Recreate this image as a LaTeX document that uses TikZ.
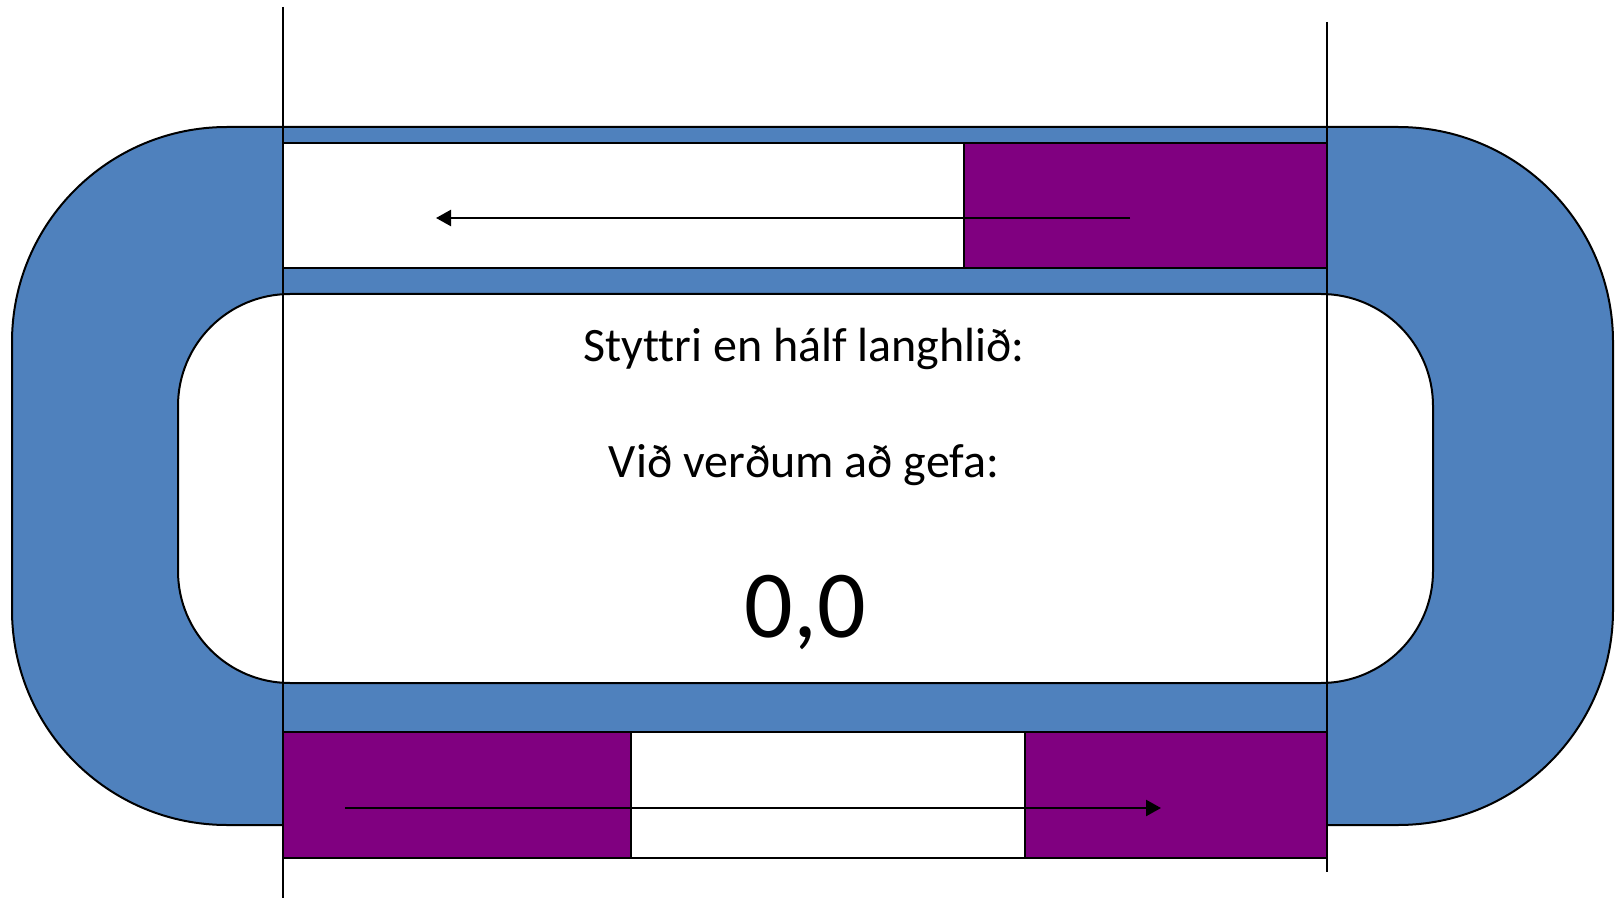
\documentclass[tikz,border=0pt]{standalone}
\usepackage{fontspec}
\setmainfont{Carlito}[Ligatures=NoCommon]
\usetikzlibrary{arrows.meta}
\definecolor{trackblue}{HTML}{4F81BD}
\definecolor{lanepurple}{HTML}{800080}
\begin{document}
\begin{tikzpicture}[x=0.5pt,y=-0.5pt,
  outline/.style={draw=black,line width=1pt},
  lanebox/.style={outline},
  guide/.style={draw=black,line width=1pt},
  runarrow/.style={draw=black,line width=1.2pt,-{Triangle[length=7.5pt,width=8pt]}},
  caption/.style={font=\fontsize{24}{29}\selectfont,anchor=base,inner sep=0pt},
  bignum/.style={font=\fontsize{48}{57}\selectfont,anchor=base,inner sep=0pt}]
\useasboundingbox (0,0) rectangle (1621,898);

% outer track and infield
\path[outline,fill=trackblue,rounded corners=107.5pt] (12,127) rectangle (1613,825);
\path[outline,fill=white,rounded corners=56pt] (178,294) rectangle (1433,683);

% lanes on the straights
\path[lanebox,fill=white] (283,143) rectangle (964,268);
\path[lanebox,fill=lanepurple] (964,143) rectangle (1327,268);
\path[lanebox,fill=lanepurple] (283,732) rectangle (631,858);
\path[lanebox,fill=white] (631,732) rectangle (1025,858);
\path[lanebox,fill=lanepurple] (1025,732) rectangle (1327,858);

% running directions
\coordinate (topstart) at (1130,218);
\coordinate (topend) at (436,218);
\coordinate (botstart) at (345,808);
\coordinate (botend) at (1161,808);
\draw[runarrow] (topstart) -- (topend);
\draw[runarrow] (botstart) -- (botend);

% straight boundaries
\coordinate (lefttop) at (283,7);
\coordinate (leftbot) at (283,898);
\coordinate (righttop) at (1327,22);
\coordinate (rightbot) at (1327,872);
\draw[guide] (lefttop) -- (leftbot);
\draw[guide] (righttop) -- (rightbot);

% infield text
\node[caption] (line1) at (804,362) {Styttri en hálf langhlið:};
\node[caption] (line2) at (804,477) {Við verðum að gefa:};
\node[bignum] (value) at (805,637) {0,0};
\end{tikzpicture}
\end{document}
